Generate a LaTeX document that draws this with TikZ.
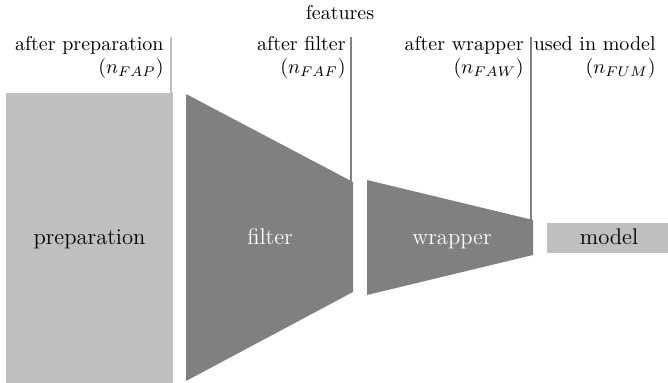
\documentclass[tikz,border=0pt]{standalone}
\begin{document}
\begin{tikzpicture}[x=0.5pt,y=-0.5pt,
  lbl/.style={anchor=base east,inner sep=0pt},
  blk/.style={anchor=base,inner sep=0pt,font=\fontsize{11.3}{13}\selectfont},
  sep/.style={line width=1pt}]
\useasboundingbox (0,0) rectangle (668,383);
% shapes
\fill[gray!50] (6,93) rectangle (173,383);
\node[blk] (prep) at (89.5,245) {preparation};
\fill[gray] (186,94) -- (353,182) -- (353,292) -- (186,381) -- cycle;
\node[blk,text=white] (filt) at (270,245) {filter};
\fill[gray] (367,180) -- (533,220) -- (533,255) -- (367,295) -- cycle;
\node[blk,text=white] (wrap) at (452,245) {wrapper};
\fill[gray!50] (547,223) rectangle (668,253);
\node[blk] (model) at (609,245) {model};
% separator lines
\coordinate (l1t) at (171,37); \coordinate (l1b) at (171,93);
\coordinate (l2t) at (351,37); \coordinate (l2b) at (351,182);
\coordinate (l3t) at (531,37); \coordinate (l3b) at (531,220);
\draw[sep,gray!50] (l1t) -- (l1b);
\draw[sep,gray] (l2t) -- (l2b);
\draw[sep,gray] (l3t) -- (l3b);
% labels
\node[anchor=base,inner sep=0pt] (feat) at (340,20) {features};
\node[lbl] (a1) at (164,51) {after preparation};
\node[lbl] (b1) at (164,74) {($n_{FAP}$)};
\node[lbl] (a2) at (346,51) {after filter};
\node[lbl] (b2) at (346,74) {($n_{FAF}$)};
\node[lbl] (a3) at (524,51) {after wrapper};
\node[lbl] (b3) at (524,74) {($n_{FAW}$)};
\node[lbl] (a4) at (656,51) {used in model};
\node[lbl] (b4) at (656,74) {($n_{FUM}$)};
\end{tikzpicture}
\end{document}
